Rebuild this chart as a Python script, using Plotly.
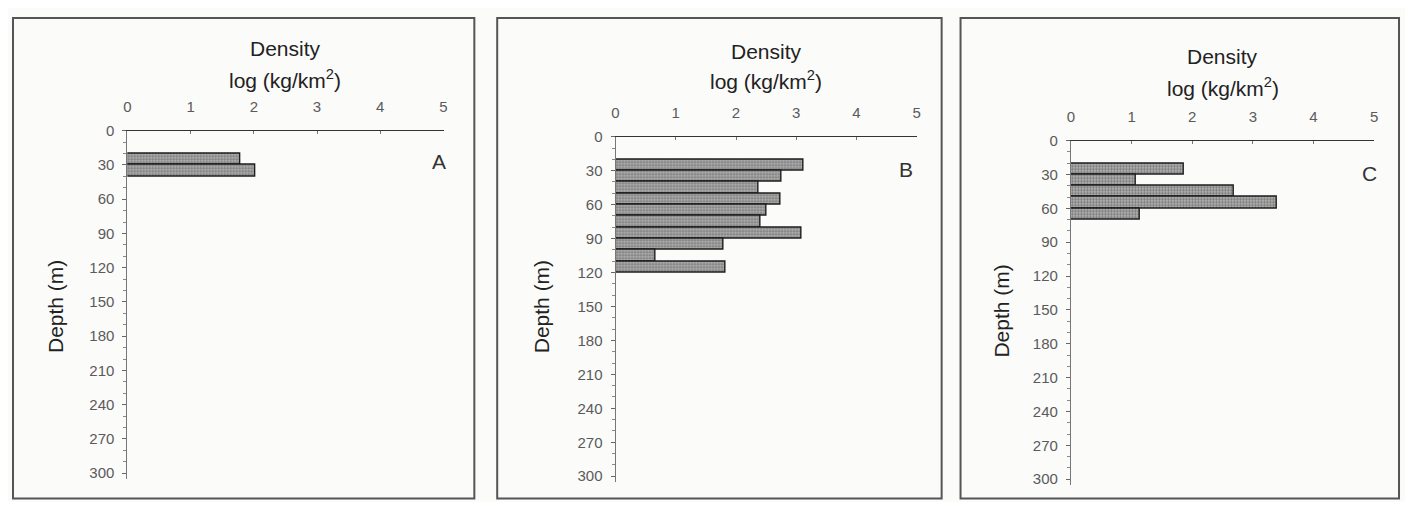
import plotly.graph_objects as go

# depth bins (m, bin centres, 10 m wide) and log density per panel
depth_a = [25, 35]
dens_a = [1.78, 2.03]

depth_b = [25, 35, 45, 55, 65, 75, 85, 95, 105, 115]
dens_b = [3.12, 2.75, 2.38, 2.74, 2.50, 2.40, 3.08, 1.80, 0.66, 1.82]

depth_c = [25, 35, 45, 55, 65]
dens_c = [1.86, 1.07, 2.68, 3.39, 1.13]

panels = ["A", "B", "C"]
x_ticks = [0, 1, 2, 3, 4, 5]
y_ticks = [0, 30, 60, 90, 120, 150, 180, 210, 240, 270, 300]

# figure sits inside the page body margin (8px), so keep it inside the window
OX, OY = 8, 8
W, H = 1413 - 2 * OX, 510 - 2 * OY

def px(x):
    return (x - OX) / W

def py(y):
    # small correction measured from the rendered page
    yc = (y - 7.2) / 0.98
    yc = min(max(yc, OY + 1), OY + H - 1.5)
    return 1 - (yc - OY) / H

# pixel boxes: (axis left, axis right, depth-0 line, depth-305 line)
boxes = [(124, 442, 129, 478), (615, 918, 135, 481), (1073, 1378, 139, 484)]
frames = [(9, 8, 473, 505), (496, 11, 943, 505), (962, 13, 1403, 505)]
title_y = [(47, 77), (50, 78), (55, 85)]
letter_xy = [(437, 160), (907, 168), (1373, 172)]
depth_xy = [(52, 305), (540, 305), (1003, 310)]

fig = go.Figure()

data = [(depth_a, dens_a), (depth_b, dens_b), (depth_c, dens_c)]
for i, (d, v) in enumerate(data):
    n = "" if i == 0 else str(i + 1)
    fig.add_trace(go.Bar(
        x=v, y=d, orientation="h", width=10,
        xaxis="x" + n, yaxis="y" + n, showlegend=False,
        marker=dict(color="#a8a8a8",
                    line=dict(color="#1e1e1e", width=1.4),
                    pattern=dict(shape=".", fgcolor="#333", bgcolor="#bcbcbc",
                                 size=3, solidity=0.5)),
    ))

layout = dict(
    width=W, height=H,
    margin=dict(l=0, r=0, t=0, b=0),
    paper_bgcolor="#fbfbfa", plot_bgcolor="rgba(0,0,0,0)",
    font=dict(family="Liberation Sans, Arial, sans-serif", color="#222"),
    bargap=0,
)

tickfont = dict(family="Liberation Sans, Arial, sans-serif", size=15, color="#5a5a5a")
annots = []
shapes = []
for i, (l, r, t, b) in enumerate(boxes):
    n = "" if i == 0 else str(i + 1)
    layout["xaxis" + n] = dict(
        domain=[px(l), px(r)], anchor="y" + n, side="top",
        range=[0, 5], tickvals=x_ticks, showgrid=False, zeroline=False,
        showline=True, linecolor="#333", linewidth=1.3,
        ticks="inside", ticklen=3, tickcolor="#777",
        tickfont=tickfont, ticklabelstandoff=12,
    )
    layout["yaxis" + n] = dict(
        domain=[py(b), py(t)], anchor="x" + n,
        range=[305, 0], tickvals=y_ticks, showgrid=False, zeroline=False,
        showline=True, linecolor="#777", linewidth=1,
        ticks="outside", ticklen=4, tickcolor="#666",
        minor=dict(dtick=10, ticks="outside", ticklen=3, tickcolor="#888"),
        tickfont=tickfont, ticklabelstandoff=5,
    )
    mid = (l + r) / 2
    annots.append(dict(x=px(mid), y=py(title_y[i][0]), xref="paper", yref="paper",
                       text="Density", showarrow=False,
                       xanchor="center", yanchor="middle",
                       font=dict(size=21, color="#222")))
    annots.append(dict(x=px(mid), y=py(title_y[i][1]), xref="paper", yref="paper",
                       text="log (kg/km<sup>2</sup>)", showarrow=False,
                       xanchor="center", yanchor="middle",
                       font=dict(size=21, color="#222")))
    annots.append(dict(x=px(letter_xy[i][0]), y=py(letter_xy[i][1]),
                       xref="paper", yref="paper",
                       text=panels[i], showarrow=False,
                       xanchor="center", yanchor="middle",
                       font=dict(size=21, color="#333")))
    annots.append(dict(x=px(depth_xy[i][0]), y=py(depth_xy[i][1]),
                       xref="paper", yref="paper",
                       text="Depth (m)", showarrow=False, textangle=-90,
                       xanchor="center", yanchor="middle",
                       font=dict(size=21, color="#222")))

for (x0, y0, x1, y1) in frames:
    shapes.append(dict(type="rect", xref="paper", yref="paper",
                       x0=px(x0), x1=px(x1), y0=py(y1), y1=py(y0),
                       line=dict(color="#555", width=2)))

layout["annotations"] = annots
layout["shapes"] = shapes
fig.update_layout(**layout)

fig.write_html("out.html")
